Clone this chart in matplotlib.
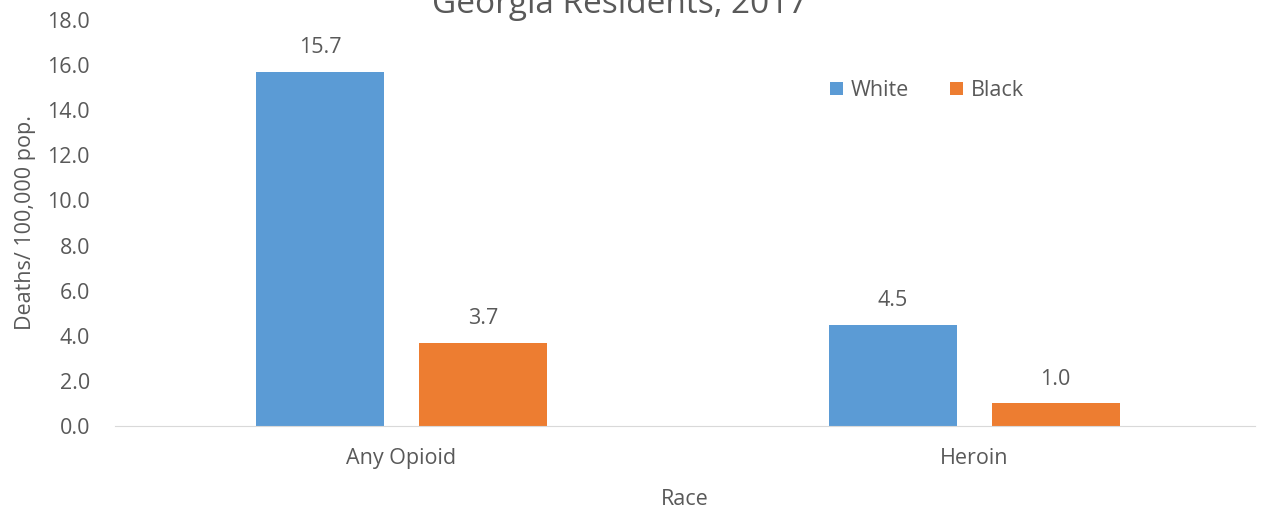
import numpy as np
import matplotlib.pyplot as plt

categories = ["Any Opioid", "Heroin"]
white = [15.7, 4.5]
black = [3.7, 1.0]
yticks = [0, 2, 4, 6, 8, 10, 12, 14, 16, 18]

plt.rcParams['font.family'] = ['Open Sans', 'DejaVu Sans']
txt = "#595959"
fs = 15.5

fig = plt.figure(figsize=(12.62, 5.12), dpi=100)
ax = fig.add_axes([115/1262, 86/512, 1140/1262, 406/512])

x = np.arange(len(categories))
w = 0.223
off = 0.142
b1 = ax.bar(x - off, white, w, color="#5B9BD5", label="White")
b2 = ax.bar(x + off, black, w, color="#ED7D31", label="Black")

for bars in (b1, b2):
    for r in bars:
        ax.annotate("%.1f" % r.get_height(), (r.get_x() + r.get_width()/2, r.get_height()),
                    xytext=(0, 10), textcoords="offset points", ha="center", va="bottom",
                    fontsize=fs, color=txt)

ax.set_xlim(-0.5, 1.49)
ax.set_ylim(0, 18)
ax.set_yticks(yticks)
ax.set_yticklabels(["%.1f" % t for t in yticks])
ax.set_xticks(x)
ax.set_xticklabels(categories)
ax.tick_params(length=0, labelsize=fs, colors=txt)
ax.tick_params(axis="x", pad=16)
ax.tick_params(axis="y", pad=18)
for s in ["top", "right", "left"]:
    ax.spines[s].set_visible(False)
ax.spines["bottom"].set_color("#D9D9D9")

ax.set_ylabel("Deaths/ 100,000 pop.", fontsize=fs, color=txt, labelpad=8)
ax.set_xlabel("Race", fontsize=fs, color=txt, labelpad=14)

fig.text(0.491, 0.992, "Georgia Residents, 2017", ha="center", va="center",
         fontsize=24, color=txt)

ax.legend(loc="upper left", bbox_to_anchor=(0.61, 0.90), ncol=2, frameon=False,
          fontsize=fs, labelcolor=txt, handlelength=0.6, handleheight=0.6,
          handletextpad=0.35, columnspacing=1.95)

plt.savefig("out.png")
